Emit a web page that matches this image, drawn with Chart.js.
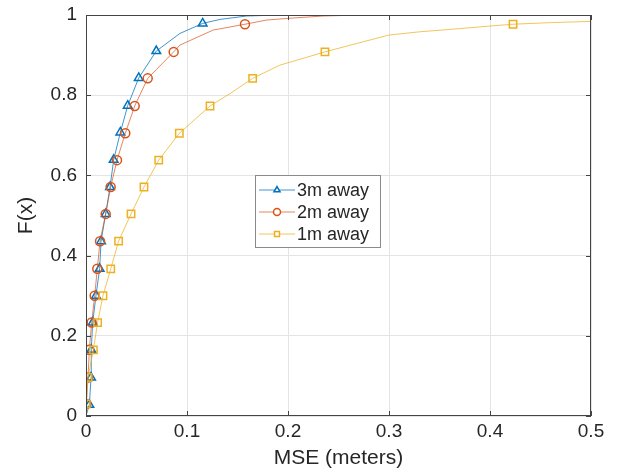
<!DOCTYPE html>
<html>
<head>
<meta charset="utf-8">
<script src="https://cdn.jsdelivr.net/npm/chart.js@4.4.0/dist/chart.umd.min.js"></script>
<style>
  html, body { margin: 0; padding: 0; background: #fff; }
  #wrap { width: 617px; height: 476px; }
</style>
</head>
<body>
<div id="wrap"><canvas id="cdf"></canvas></div>
<script>
// --- data ---
const xTicks = [0, 0.1, 0.2, 0.3, 0.4, 0.5];
const yTicks = [0, 0.2, 0.4, 0.6, 0.8, 1];
const seriesNames = ['3m away', '2m away', '1m away'];

// marker positions (MSE, F)
const m3X = [0.0033, 0.0050, 0.0052, 0.0066, 0.0099, 0.0135, 0.0149, 0.0195, 0.0238, 0.0274, 0.0340, 0.0413, 0.0522, 0.0696, 0.1155];
const m3F = [0.028, 0.096, 0.165, 0.233, 0.300, 0.367, 0.436, 0.504, 0.571, 0.639, 0.707, 0.774, 0.843, 0.910, 0.979];
const m2X = [0.0003, 0.0020, 0.0033, 0.0056, 0.0086, 0.0112, 0.0139, 0.0195, 0.0244, 0.0307, 0.0389, 0.0482, 0.0611, 0.0868, 0.1574];
const m2F = [0.030, 0.096, 0.165, 0.233, 0.300, 0.367, 0.436, 0.504, 0.571, 0.638, 0.705, 0.773, 0.842, 0.908, 0.977];
const m1X = [0.0002, 0.0020, 0.0073, 0.0115, 0.0168, 0.0245, 0.0323, 0.0446, 0.0574, 0.0720, 0.0924, 0.1228, 0.1650, 0.2366, 0.4228];
const m1F = [0.030, 0.096, 0.165, 0.233, 0.300, 0.367, 0.436, 0.504, 0.571, 0.638, 0.705, 0.773, 0.842, 0.908, 0.977];

// extra points of the curves between markers
const c3X = [0, 0.093, 0.1327, 0.159, 0.192, 0.254];
const c3F = [0, 0.954, 0.989, 0.9975, 1.0, 1.0];
const c2X = [0, 0.093, 0.126, 0.179, 0.202, 0.235, 0.271, 0.447];
const c2F = [0, 0.925, 0.9625, 0.9875, 0.992, 0.9975, 1.0, 1.0];
const c1X = [0, 0.1426, 0.192, 0.271, 0.30, 0.33, 0.37, 0.40, 0.46, 0.50, 0.52];
const c1F = [0, 0.804, 0.875, 0.931, 0.950, 0.958, 0.966, 0.9725, 0.981, 0.984, 0.985];

// --- helpers ---
const colors = ['#0072BD', '#D95319', '#EDB120'];
const lineColors = ['rgba(0,114,189,0.75)', 'rgba(217,83,25,0.7)', 'rgba(237,177,32,0.75)'];
const markers = ['triangle', 'circle', 'rect'];
const markerRadius = [5, 4.5, 5.2];

function toPoints(xs, fs) {
  return xs.map((x, i) => ({ x: x, y: fs[i] }));
}
function curve(mx, mf, cx, cf) {
  return toPoints(mx, mf).concat(toPoints(cx, cf)).sort((a, b) => a.x - b.x || a.y - b.y);
}

const markerSets = [[m3X, m3F], [m2X, m2F], [m1X, m1F]];
const curveSets = [[c3X, c3F], [c2X, c2F], [c1X, c1F]];

const datasets = [];
seriesNames.forEach((name, i) => {
  datasets.push({
    label: name,
    data: curve(markerSets[i][0], markerSets[i][1], curveSets[i][0], curveSets[i][1]),
    showLine: true,
    borderColor: lineColors[i],
    borderWidth: 1,
    pointRadius: 0,
    tension: 0,
    order: 3 - i
  });
  datasets.push({
    label: name + ' markers',
    data: toPoints(markerSets[i][0], markerSets[i][1]),
    showLine: false,
    pointStyle: markers[i],
    pointRadius: markerRadius[i],
    pointBorderWidth: 1.5,
    pointBorderColor: colors[i],
    pointBackgroundColor: 'rgba(0,0,0,0)',
    order: 3 - i
  });
});

// --- box, inward ticks and legend (MATLAB look) ---
const axesBox = {
  id: 'axesBox',
  afterDatasetsDraw(chart) {
    const { ctx, chartArea: a, scales } = chart;
    ctx.save();
    ctx.strokeStyle = '#444';
    ctx.lineWidth = 1;
    ctx.strokeRect(a.left + 0.5, a.top + 0.5, a.right - a.left - 1, a.bottom - a.top - 1);
    ctx.beginPath();
    xTicks.forEach(v => {
      const px = Math.round(scales.x.getPixelForValue(v)) + 0.5;
      ctx.moveTo(px, a.bottom); ctx.lineTo(px, a.bottom - 5);
      ctx.moveTo(px, a.top); ctx.lineTo(px, a.top + 5);
    });
    yTicks.forEach(v => {
      const py = Math.round(scales.y.getPixelForValue(v)) + 0.5;
      ctx.moveTo(a.left, py); ctx.lineTo(a.left + 5, py);
      ctx.moveTo(a.right, py); ctx.lineTo(a.right - 5, py);
    });
    ctx.stroke();

    // legend box
    const bx = 255, by = 175, bw = 125, bh = 72;
    ctx.fillStyle = '#fff';
    ctx.fillRect(bx, by, bw, bh);
    ctx.strokeStyle = '#8a8a8a';
    ctx.strokeRect(bx + 0.5, by + 0.5, bw, bh);
    ctx.font = '18px "Liberation Sans", Arial, sans-serif';
    ctx.textBaseline = 'middle';
    seriesNames.forEach((name, i) => {
      const y = by + 15 + i * 22;
      ctx.strokeStyle = lineColors[i];
      ctx.lineWidth = 1;
      ctx.beginPath();
      ctx.moveTo(bx + 4, y); ctx.lineTo(bx + 40, y);
      ctx.stroke();
      ctx.strokeStyle = colors[i];
      ctx.lineWidth = 1.5;
      ctx.fillStyle = '#fff';
      Chart.helpers.drawPoint(ctx, { pointStyle: markers[i], radius: 3.5, rotation: 0, borderWidth: 1.5 }, bx + 22, y);
      ctx.fillStyle = '#262626';
      ctx.fillText(name, bx + 42, y + 1);
    });
    ctx.restore();
  }
};

const tickFont = { family: '"Liberation Sans", Arial, sans-serif', size: 19 };
const titleFont = { family: '"Liberation Sans", Arial, sans-serif', size: 21 };

new Chart(document.getElementById('cdf'), {
  type: 'scatter',
  data: { datasets: datasets },
  options: {
    responsive: true,
    maintainAspectRatio: false,
    animation: false,
    layout: { padding: { left: 0, right: 26, top: 15, bottom: 0 } },
    plugins: {
      legend: { display: false },
      tooltip: { enabled: false }
    },
    scales: {
      x: {
        type: 'linear', min: 0, max: 0.5,
        afterBuildTicks: s => { s.ticks = xTicks.map(v => ({ value: v })); },
        afterFit: s => { s.height = 60; s.paddingLeft = 0; s.paddingRight = 0; },
        ticks: { font: tickFont, color: '#262626', padding: 4, maxRotation: 0,
                 callback: v => String(Math.round(v * 10) / 10) },
        grid: { color: '#e4e4e4', drawTicks: false },
        border: { display: false },
        title: { display: true, text: 'MSE (meters)', font: titleFont, color: '#262626',
                 padding: { top: 0, bottom: 5 } }
      },
      y: {
        type: 'linear', min: 0, max: 1,
        afterBuildTicks: s => { s.ticks = yTicks.map(v => ({ value: v })); },
        afterFit: s => { s.width = 86; s.paddingTop = 0; s.paddingBottom = 0; },
        ticks: { font: tickFont, color: '#262626', padding: 9,
                 callback: v => String(Math.round(v * 10) / 10) },
        grid: { color: '#e4e4e4', drawTicks: false },
        border: { display: false },
        title: { display: true, text: 'F(x)', font: titleFont, color: '#262626',
                 padding: { top: 14, bottom: 0 } }
      }
    }
  },
  plugins: [axesBox]
});
</script>
</body>
</html>
